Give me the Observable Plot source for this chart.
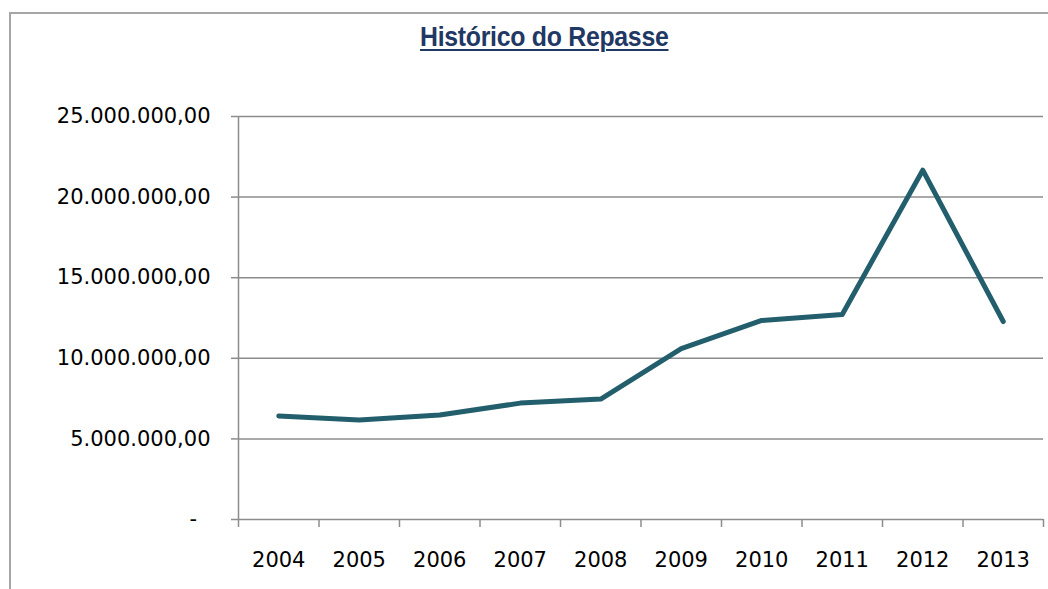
<!DOCTYPE html>
<html>
<head>
<meta charset="utf-8">
<script src="https://cdn.jsdelivr.net/npm/d3@7"></script>
<script src="https://cdn.jsdelivr.net/npm/@observablehq/plot@0.6"></script>
<style>
  html, body { margin: 0; padding: 0; background: #fff; overflow: hidden; }
  #wrap { position: relative; width: 1048px; height: 589px; overflow: hidden; }
  #frame { position: absolute; left: 9px; top: 12px; width: 1200px; height: 700px;
           border-left: 2px solid #a6a6a6; border-top: 2px solid #a6a6a6; box-sizing: border-box; }
  #title { position: absolute; left: 420px; top: 24px; line-height: 1; white-space: nowrap;
           font-family: "Liberation Sans", sans-serif; font-weight: bold; letter-spacing: -0.3px;
           font-size: 27px; color: #1f3864; text-decoration: underline; text-decoration-thickness: 2px;
           text-underline-offset: 3px; transform: scaleX(0.92); transform-origin: left top; }
  #chart { position: absolute; left: 0; top: 0; }
</style>
</head>
<body>
<div id="wrap">
  <div id="frame"></div>
  <div id="chart"></div>
  <div id="title">Histórico do Repasse</div>
</div>
<script>
const years = [2004, 2005, 2006, 2007, 2008, 2009, 2010, 2011, 2012, 2013];
const values = [6420000, 6170000, 6480000, 7220000, 7470000, 10600000, 12350000, 12720000, 21670000, 12280000];
const yTicks = [0, 5000000, 10000000, 15000000, 20000000, 25000000];
const yTickLabels = ["-\u00a0\u00a0", "5.000.000,00", "10.000.000,00", "15.000.000,00", "20.000.000,00", "25.000.000,00"];

const data = years.map((year, i) => ({year, value: values[i]}));
const boundaries = [...years.map(y => y - 0.5), years[years.length - 1] + 0.5];
const gridColor = "#8c8c8c";

const chart = Plot.plot({
  width: 1048,
  height: 589,
  marginLeft: 238,
  marginRight: 5,
  marginTop: 116,
  marginBottom: 70,
  style: {fontFamily: "DejaVu Sans", fontSize: "21px", color: "#000", background: "transparent"},
  x: {type: "linear", domain: [boundaries[0], boundaries[boundaries.length - 1]], label: null},
  y: {domain: [0, 25000000], label: null},
  marks: [
    Plot.ruleY(yTicks.slice(1), {stroke: gridColor, strokeWidth: 1.5}),
    Plot.ruleY([0], {stroke: gridColor, strokeWidth: 1.5}),
    Plot.ruleX([boundaries[0]], {stroke: gridColor, strokeWidth: 1.5}),
    Plot.axisY({ticks: yTicks, tickSize: 7, tickPadding: 21, label: null,
      tickFormat: d => yTickLabels[yTicks.indexOf(d)], stroke: gridColor, strokeWidth: 1.5, fill: "#000"}),
    Plot.axisX({ticks: boundaries, tickSize: 8, tickFormat: () => "", label: null, stroke: gridColor, strokeWidth: 1.5}),
    Plot.axisX({ticks: years, tickSize: 0, tickPadding: 33, tickFormat: d => String(d), label: null, fill: "#000"}),
    Plot.line(data, {x: "year", y: "value", stroke: "#235e6c", strokeWidth: 5, strokeLinejoin: "round", strokeLinecap: "round"})
  ]
});
document.getElementById("chart").appendChild(chart);
</script>
</body>
</html>
